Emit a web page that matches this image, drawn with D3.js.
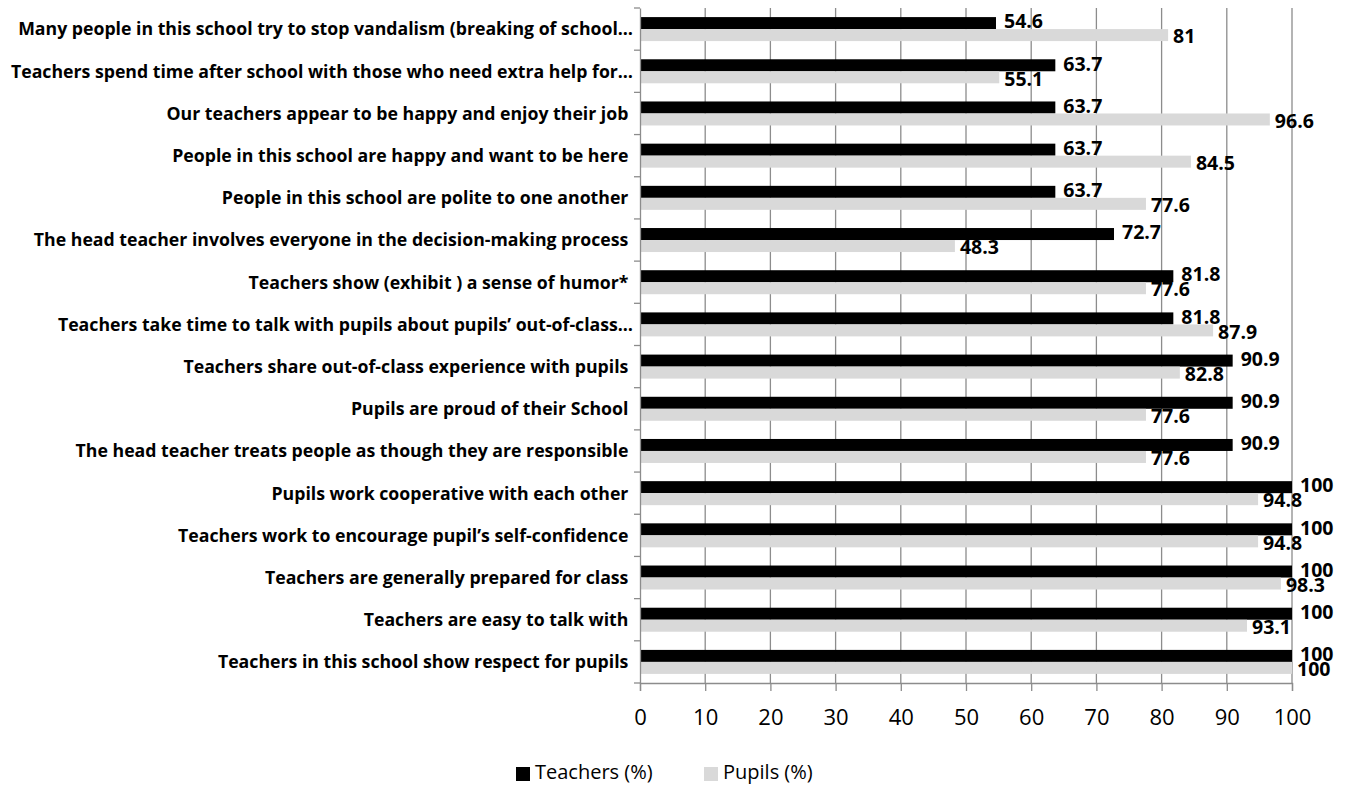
<!DOCTYPE html>
<html>
<head>
<meta charset="utf-8">
<script src="https://cdn.jsdelivr.net/npm/d3@7"></script>
<style>
  body { margin: 0; background: #fff; }
  svg text { font-family: "Open Sans", "Liberation Sans", sans-serif; }
</style>
</head>
<body>
<div class="container"></div>
<script>
const categorias = [
  "Many people in this school try to stop vandalism (breaking of school…",
  "Teachers spend time after school with those who need extra help for…",
  "Our teachers appear to be happy and enjoy their job ",
  "People in this school are happy and want to be here ",
  "People in this school are polite to one another ",
  "The head teacher involves everyone in the decision-making process ",
  "Teachers show (exhibit ) a sense of humor* ",
  "Teachers take time to talk with pupils about pupils’ out-of-class…",
  "Teachers share out-of-class experience with pupils ",
  "Pupils are proud of their School ",
  "The head teacher treats people as though they are responsible ",
  "Pupils work cooperative with each other ",
  "Teachers work to encourage pupil’s self-confidence ",
  "Teachers are generally prepared for class ",
  "Teachers are easy to talk with ",
  "Teachers in this school show respect for pupils "
]
const teachers = [54.6, 63.7, 63.7, 63.7, 63.7, 72.7, 81.8, 81.8, 90.9, 90.9, 90.9, 100, 100, 100, 100, 100]
const pupils = [81, 55.1, 96.6, 84.5, 77.6, 48.3, 77.6, 87.9, 82.8, 77.6, 77.6, 94.8, 94.8, 98.3, 93.1, 100]
const series = ["Teachers (%)", "Pupils (%)"]
const colores = ["#000000", "#d9d9d9"]
const xTicks = [0, 10, 20, 30, 40, 50, 60, 70, 80, 90, 100]

const size = {WIDTH: 1347, HEIGHT: 789}
const margin = {left: 640, right: 55, top: 8, bottom: 106}

const svg = d3.select(".container")
              .append("svg")
              .attr("width", size.WIDTH)
              .attr("height", size.HEIGHT)

const x = d3.scaleLinear()
            .domain([0, 100])
            .range([margin.left, size.WIDTH - margin.right])

const y = d3.scaleBand()
            .domain(categorias)
            .range([margin.top, size.HEIGHT - margin.bottom])

const ySub = d3.scaleBand()
               .domain(series)
               .range([0, 24])

const barOffset = (y.bandwidth() - 24) / 2

// gridlines
svg.selectAll(".grid")
   .data(xTicks.slice(1))
   .join("line")
   .attr("x1", (d) => x(d))
   .attr("x2", (d) => x(d))
   .attr("y1", margin.top)
   .attr("y2", size.HEIGHT - margin.bottom)
   .attr("stroke", "#8c8c8c")
   .attr("stroke-width", 1.3)

const datos = categorias.map((c, i) => ({cat: c, valores: [teachers[i], pupils[i]]}))

const grupos = svg.selectAll(".grupo")
                  .data(datos)
                  .join("g")
                  .attr("transform", (d) => `translate(0 ${y(d.cat) + barOffset})`)

grupos.selectAll("rect")
      .data((d) => d.valores.map((v, j) => ({v: v, s: series[j], j: j})))
      .join("rect")
      .attr("x", x(0))
      .attr("y", (d) => ySub(d.s))
      .attr("width", (d) => x(d.v) - x(0))
      .attr("height", ySub.bandwidth())
      .attr("fill", (d) => colores[d.j])

grupos.selectAll(".etiqueta")
      .data((d) => d.valores.map((v, j) => ({v: v, s: series[j], j: j})))
      .join("text")
      .attr("class", "etiqueta")
      .attr("x", (d) => x(d.v) + (d.j === 0 ? 8 : 5))
      .attr("y", (d) => ySub(d.s) + ySub.bandwidth() / 2 + (d.j === 0 ? 0 : 3))
      .attr("dominant-baseline", "middle")
      .attr("font-size", "19.5px")
      .attr("font-weight", "bold")
      .attr("fill", "#000")
      .text((d) => d.v)

// y axis
const yAxis = d3.axisLeft(y).tickSize(0).tickPadding(7)
const gy = svg.append("g")
              .attr("transform", `translate(${margin.left} 0)`)
              .call(yAxis)
gy.select(".domain").attr("stroke", "#8c8c8c").attr("stroke-width", 1.3)
gy.selectAll("text")
  .attr("font-size", "17.7px")
  .attr("font-weight", "bold")
  .attr("fill", "#000")
  .style("white-space", "pre")
  .attr("dy", "0.36em")

// y band boundary ticks
svg.selectAll(".ytick")
   .data(categorias.concat(["fin"]))
   .join("line")
   .attr("x1", margin.left - 6)
   .attr("x2", margin.left)
   .attr("y1", (d, i) => margin.top + i * y.step())
   .attr("y2", (d, i) => margin.top + i * y.step())
   .attr("stroke", "#8c8c8c")
   .attr("stroke-width", 1.3)

// x axis
const xAxis = d3.axisBottom(x).tickValues(xTicks).tickSize(8).tickPadding(18)
const gx = svg.append("g")
              .attr("transform", `translate(0 ${size.HEIGHT - margin.bottom})`)
              .call(xAxis)
gx.selectAll("line, path").attr("stroke", "#8c8c8c").attr("stroke-width", 1.3)
gx.selectAll("text")
  .attr("font-size", "22px")
  .attr("fill", "#000")

// legend
const leyenda = svg.selectAll(".leyenda")
                   .data(series)
                   .join("g")
                   .attr("transform", (d, i) => `translate(${[516, 704][i]} 767)`)
leyenda.append("rect")
       .attr("width", 14)
       .attr("height", 14)
       .attr("fill", (d, i) => colores[i])
leyenda.append("text")
       .attr("x", 19)
       .attr("y", 7)
       .attr("dominant-baseline", "middle")
       .attr("font-size", "20px")
       .attr("fill", "#000")
       .text((d) => d)
</script>
</body>
</html>
